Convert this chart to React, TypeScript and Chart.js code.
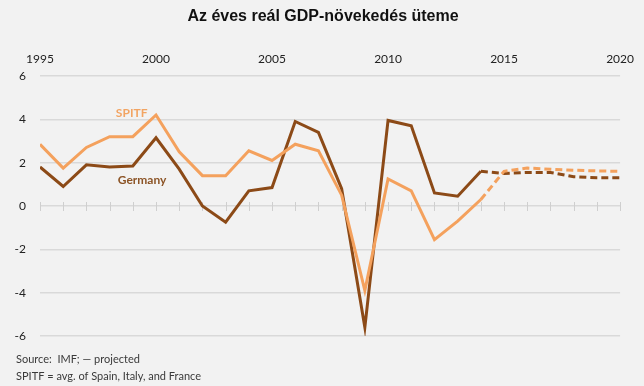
import React, { useEffect, useRef } from "react";
import { Chart, registerables } from "chart.js";

Chart.register(...registerables);

const years = [1995, 1996, 1997, 1998, 1999, 2000, 2001, 2002, 2003, 2004, 2005, 2006, 2007, 2008, 2009, 2010, 2011, 2012, 2013, 2014, 2015, 2016, 2017, 2018, 2019, 2020];
const actualYears = [1995, 1996, 1997, 1998, 1999, 2000, 2001, 2002, 2003, 2004, 2005, 2006, 2007, 2008, 2009, 2010, 2011, 2012, 2013, 2014];
const projYears = [2014, 2015, 2016, 2017, 2018, 2019, 2020];

const germanyActual = [1.8, 0.9, 1.9, 1.8, 1.85, 3.15, 1.7, 0.0, -0.75, 0.7, 0.85, 3.9, 3.4, 0.8, -5.6, 3.95, 3.7, 0.6, 0.45, 1.6];
const germanyProj = [1.6, 1.5, 1.55, 1.55, 1.35, 1.3, 1.3];
const spitfActual = [2.85, 1.75, 2.7, 3.2, 3.2, 4.2, 2.5, 1.4, 1.4, 2.55, 2.1, 2.85, 2.55, 0.5, -3.9, 1.25, 0.7, -1.55, -0.7, 0.3];
const spitfProj = [0.3, 1.6, 1.75, 1.7, 1.65, 1.62, 1.6];

const xTicks = [1995, 2000, 2005, 2010, 2015, 2020];
const yTicks = [-6, -4, -2, 0, 2, 4, 6];

const titleText = "Az éves reál GDP-növekedés üteme";
const footnotes = ["Source:  IMF; — projected", "SPITF = avg. of Spain, Italy, and France"];
const seriesLabels = [
  { text: "SPITF", year: 1998.95, value: 4.3, color: "#f2a462" },
  { text: "Germany", year: 1999.4, value: 1.2, color: "#8c5426" },
];

const GERMANY = "#8c4a17";
const SPITF = "#f4a15d";
const BG = "#f2f2f2";

const toPts = (xs: number[], ys: number[]) => xs.map((x, i) => ({ x, y: ys[i] }));

const decorPlugin = {
  id: "decor",
  beforeDraw(chart: any) {
    const ctx = chart.ctx;
    ctx.save();
    ctx.fillStyle = BG;
    ctx.fillRect(0, 0, chart.width, chart.height);
    ctx.restore();
  },
  beforeDatasetsDraw(chart: any) {
    const ctx = chart.ctx;
    const xs = chart.scales.x;
    const ys = chart.scales.y;
    const y0 = ys.getPixelForValue(0);
    ctx.save();
    ctx.strokeStyle = "#cfcfcf";
    ctx.lineWidth = 1;
    years.forEach((yr) => {
      const px = Math.round(xs.getPixelForValue(yr)) + 0.5;
      ctx.beginPath();
      ctx.moveTo(px, y0 - 4);
      ctx.lineTo(px, y0 + 5);
      ctx.stroke();
    });
    ctx.restore();
  },
  afterDraw(chart: any) {
    const ctx = chart.ctx;
    const xs = chart.scales.x;
    const ys = chart.scales.y;
    ctx.save();
    ctx.fillStyle = "#111";
    ctx.font = "bold 16px 'Liberation Sans', Arial, sans-serif";
    ctx.textAlign = "center";
    ctx.textBaseline = "middle";
    ctx.fillText(titleText, 323, 17);

    ctx.font = "bold 12px Lato, 'Open Sans', sans-serif";
    seriesLabels.forEach((l) => {
      ctx.fillStyle = l.color;
      ctx.fillText(l.text, xs.getPixelForValue(l.year), ys.getPixelForValue(l.value));
    });

    ctx.font = "11px Lato, 'Open Sans', sans-serif";
    ctx.fillStyle = "#3a3a3a";
    ctx.textAlign = "left";
    footnotes.forEach((t, i) => {
      ctx.fillText(t, 16, 359 + i * 17);
    });
    ctx.restore();
  },
};

export default function App() {
  const ref = useRef<HTMLCanvasElement | null>(null);

  useEffect(() => {
    document.body.style.margin = "0";
    document.body.style.background = BG;
    const canvas = ref.current;
    if (!canvas) return;
    const chart = new Chart(canvas, {
      type: "line",
      data: {
        datasets: [
          {
            label: "SPITF",
            data: toPts(actualYears, spitfActual),
            borderColor: SPITF,
            borderWidth: 3,
            pointRadius: 0,
            tension: 0,
          },
          {
            label: "SPITF projected",
            data: toPts(projYears, spitfProj),
            borderColor: SPITF,
            borderWidth: 3,
            borderDash: [7, 4],
            pointRadius: 0,
            tension: 0,
          },
          {
            label: "Germany",
            data: toPts(actualYears, germanyActual),
            borderColor: GERMANY,
            borderWidth: 3,
            pointRadius: 0,
            tension: 0,
          },
          {
            label: "Germany projected",
            data: toPts(projYears, germanyProj),
            borderColor: GERMANY,
            borderWidth: 3,
            borderDash: [7, 4],
            pointRadius: 0,
            tension: 0,
          },
        ],
      },
      options: {
        responsive: false,
        animation: false,
        events: [],
        layout: { padding: { left: 0, right: 22, top: 40, bottom: 50 } },
        plugins: {
          legend: { display: false },
          title: { display: false },
          tooltip: { enabled: false },
        },
        scales: {
          x: {
            type: "linear",
            position: "top",
            min: 1995,
            max: 2020,
            afterFit: (s: any) => {
              s.height = 36;
            },
            afterBuildTicks: (s: any) => {
              s.ticks = xTicks.map((v) => ({ value: v }));
            },
            ticks: {
              callback: (v: any) => String(v),
              color: "#222",
              font: { family: "Lato, 'Open Sans', sans-serif", size: 12 },
              padding: 10,
              maxRotation: 0,
              autoSkip: false,
            },
            grid: { display: false, drawTicks: false },
            border: { display: false },
          },
          y: {
            min: -6,
            max: 6,
            afterFit: (s: any) => {
              s.width = 40;
            },
            afterBuildTicks: (s: any) => {
              s.ticks = yTicks.map((v) => ({ value: v }));
            },
            ticks: {
              callback: (v: any) => String(v),
              color: "#222",
              font: { family: "Lato, 'Open Sans', sans-serif", size: 12 },
              padding: 14,
            },
            grid: { color: "#d9d9d9", lineWidth: 1.5, drawTicks: false },
            border: { display: false },
          },
        },
      },
      plugins: [decorPlugin],
    });
    return () => chart.destroy();
  }, []);

  return (
    <div style={{ width: 644, height: 386, background: BG }}>
      <canvas ref={ref} width={644} height={386} />
    </div>
  );
}
